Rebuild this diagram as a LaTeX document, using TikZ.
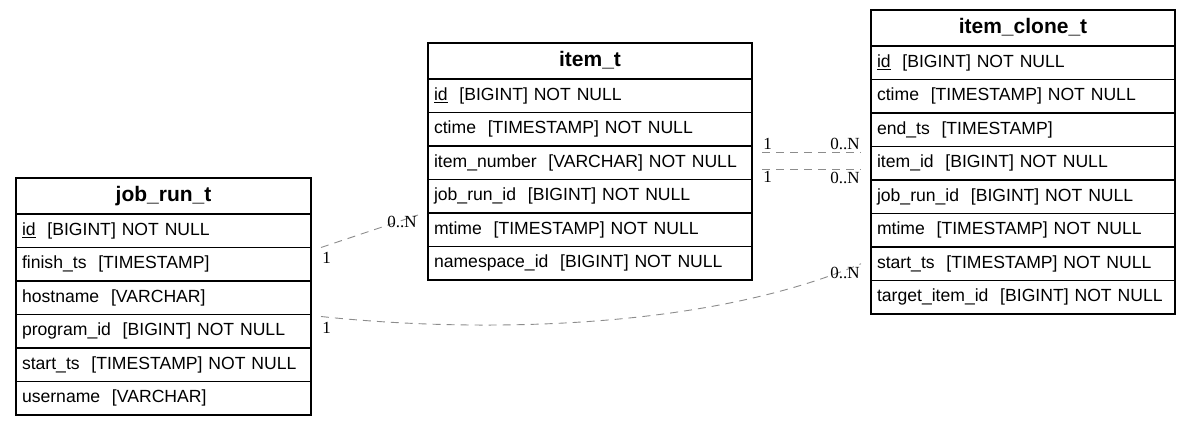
\documentclass[tikz,border=0pt]{standalone}
\usepackage{fontspec}
\setmainfont{Liberation Sans}
\newfontfamily\cardfont{Liberation Serif}
\usetikzlibrary{positioning}

\begin{document}
\begin{tikzpicture}[x=1pt, y=-1pt, node distance=0pt,
    tblhead/.style={draw, line width=1.1pt, outer sep=0pt, inner sep=0pt, minimum height=36pt,
        font=\fontsize{21}{24}\selectfont\bfseries, text height=15pt, text depth=4pt},
    tblrow/.style={draw, line width=1.1pt, outer sep=0pt, inner xsep=6pt, inner ysep=0pt, minimum height=33.5pt,
        align=left, font=\fontsize{17.6}{21}\selectfont, text height=13pt, text depth=4pt},
    rel/.style={draw=gray!90, line width=0.9pt, dash pattern=on 8pt off 6pt},
    card/.style={font=\cardfont\fontsize{17}{20}\selectfont, inner sep=1pt}]
    \useasboundingbox (0,0) rectangle (1191,425);

    % job_run_t
    \node [tblhead, minimum width=295pt, anchor=north west] (jobrun) at (16,178) {job\_run\_t};
    \node [tblrow, text width=283pt, below=of jobrun] (jobid) {\underline{id}~~[BIGINT]~NOT~NULL};
    \node [tblrow, text width=283pt, below=of jobid] (jobfinish) {finish\_ts~~[TIMESTAMP]};
    \node [tblrow, text width=283pt, below=of jobfinish] (jobhost) {hostname~~[VARCHAR]};
    \node [tblrow, text width=283pt, below=of jobhost] (jobprog) {program\_id~~[BIGINT]~NOT~NULL};
    \node [tblrow, text width=283pt, below=of jobprog] (jobstart) {start\_ts~~[TIMESTAMP]~NOT~NULL};
    \node [tblrow, text width=283pt, below=of jobstart] (jobuser) {username~~[VARCHAR]};

    % item_t
    \node [tblhead, minimum width=324pt, anchor=north west] (item) at (428,43) {item\_t};
    \node [tblrow, text width=312pt, below=of item] (itemid) {\underline{id}~~[BIGINT]~NOT~NULL};
    \node [tblrow, text width=312pt, below=of itemid] (itemctime) {ctime~~[TIMESTAMP]~NOT~NULL};
    \node [tblrow, text width=312pt, below=of itemctime] (itemnum) {item\_number~~[VARCHAR]~NOT~NULL};
    \node [tblrow, text width=312pt, below=of itemnum] (itemjobrun) {job\_run\_id~~[BIGINT]~NOT~NULL};
    \node [tblrow, text width=312pt, below=of itemjobrun] (itemmtime) {mtime~~[TIMESTAMP]~NOT~NULL};
    \node [tblrow, text width=312pt, below=of itemmtime] (itemns) {namespace\_id~~[BIGINT]~NOT~NULL};

    % item_clone_t
    \node [tblhead, minimum width=304pt, anchor=north west] (clone) at (871,10) {item\_clone\_t};
    \node [tblrow, text width=292pt, below=of clone] (cloneid) {\underline{id}~~[BIGINT]~NOT~NULL};
    \node [tblrow, text width=292pt, below=of cloneid] (clonectime) {ctime~~[TIMESTAMP]~NOT~NULL};
    \node [tblrow, text width=292pt, below=of clonectime] (cloneend) {end\_ts~~[TIMESTAMP]};
    \node [tblrow, text width=292pt, below=of cloneend] (cloneitem) {item\_id~~[BIGINT]~NOT~NULL};
    \node [tblrow, text width=292pt, below=of cloneitem] (clonejobrun) {job\_run\_id~~[BIGINT]~NOT~NULL};
    \node [tblrow, text width=292pt, below=of clonejobrun] (clonemtime) {mtime~~[TIMESTAMP]~NOT~NULL};
    \node [tblrow, text width=292pt, below=of clonemtime] (clonestart) {start\_ts~~[TIMESTAMP]~NOT~NULL};
    \node [tblrow, text width=292pt, below=of clonestart] (clonetarget) {target\_item\_id~~[BIGINT]~NOT~NULL};

    % relations
    \draw [rel] ([xshift=10pt]jobid.south east) -- ([xshift=-10pt,yshift=-2pt]itemjobrun.south west)
        node [card, pos=0, anchor=north west, yshift=-3pt] {1}
        node [card, pos=1, anchor=north east] {0..N};
    \draw [rel] ([xshift=10pt,yshift=10.5pt]itemnum.east) -- ([xshift=-10pt,yshift=11pt]cloneitem.west)
        node [card, pos=0, anchor=south west, yshift=1pt] {1}
        node [card, pos=1, anchor=south east, yshift=1pt] {0..N};
    \draw [rel] ([xshift=10pt,yshift=-6.5pt]itemnum.east) -- ([xshift=-10pt,yshift=-6pt]cloneitem.west)
        node [card, pos=0, anchor=north west, yshift=-1pt] {1}
        node [card, pos=1, anchor=north east, yshift=-1pt] {0..N};
    \draw [rel] ([xshift=10pt,yshift=-2pt]jobprog.north east) .. controls +(149,16) and +(-160,68) .. ([xshift=-10pt]clonestart.west)
        node [card, pos=0, anchor=north west, yshift=-4pt] {1}
        node [card, pos=1, anchor=north east, yshift=-2pt] {0..N};
\end{tikzpicture}
\end{document}
